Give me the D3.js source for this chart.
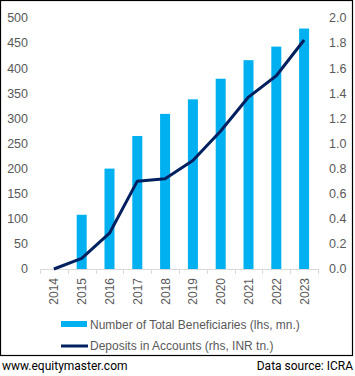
<!DOCTYPE html>
<html><head><meta charset="utf-8">
<script src="https://cdn.jsdelivr.net/npm/d3@7"></script>
<style>
html,body{margin:0;padding:0;background:#fff;}
svg{display:block;font-family:"Liberation Sans",Arial,sans-serif;}
</style></head>
<body>
<svg id="chart" width="355" height="376"></svg>
<script>
const years = ["2014","2015","2016","2017","2018","2019","2020","2021","2022","2023"];
const beneficiaries = [0,108,200,265,309,338,379,416,443,479];
const deposits = [0,0.085,0.285,0.70,0.72,0.865,1.10,1.37,1.54,1.825];
const leftTicks = [0,50,100,150,200,250,300,350,400,450,500];
const rightTicks = [0,0.2,0.4,0.6,0.8,1.0,1.2,1.4,1.6,1.8,2.0];
const legendLabels = ["Number of Total Beneficiaries (lhs, mn.)","Deposits in Accounts (rhs, INR tn.)"];

const svg = d3.select("#chart");
const x0 = 40, x1 = 318, yTop = 18, yBot = 269;
const x = d3.scaleBand().domain(years).range([x0,x1]).paddingInner(0).paddingOuter(0);
const yL = d3.scaleLinear().domain([0,500]).range([yBot,yTop]);
const yR = d3.scaleLinear().domain([0,2]).range([yBot,yTop]);
const txt = "#595959";

// border
svg.append("rect").attr("x",0.5).attr("y",0.5).attr("width",352).attr("height",355)
  .attr("fill","none").attr("stroke","#000").attr("stroke-width",1.2);

// bars
const bw = 10;
svg.append("g").selectAll("rect").data(years.map((y,i)=>({y,v:beneficiaries[i]})).filter(d=>d.v>0))
  .join("rect")
  .attr("x",d=>x(d.y)+x.bandwidth()/2-bw/2)
  .attr("width",bw)
  .attr("y",d=>yL(d.v))
  .attr("height",d=>yBot-yL(d.v))
  .attr("fill","#00B0F0");

// x axis line & ticks
const ax = svg.append("g").attr("stroke","#d9d9d9").attr("stroke-width",1);
ax.append("line").attr("x1",x0).attr("x2",x1).attr("y1",yBot+0.5).attr("y2",yBot+0.5);
const bounds = years.map(y=>x(y)).concat([x1]);
ax.selectAll("line.t").data(bounds).join("line").attr("class","t")
  .attr("x1",d=>Math.round(d)+0.5).attr("x2",d=>Math.round(d)+0.5)
  .attr("y1",yBot).attr("y2",yBot+5);

// x labels
svg.append("g").selectAll("text").data(years).join("text")
  .attr("transform",d=>`translate(${x(d)+x.bandwidth()/2+4.5},${yBot+9}) rotate(-90)`)
  .attr("text-anchor","end").attr("font-size",12).attr("fill",txt).text(d=>d);

// left axis labels
svg.append("g").selectAll("text").data(leftTicks).join("text")
  .attr("x",28).attr("y",d=>yL(d)+4.3).attr("text-anchor","end")
  .attr("font-size",12.5).attr("fill",txt).text(d=>d);

// right axis labels
svg.append("g").selectAll("text").data(rightTicks).join("text")
  .attr("x",329).attr("y",d=>yR(d)+4.3).attr("text-anchor","start")
  .attr("font-size",12.5).attr("fill",txt).text(d=>d.toFixed(1));

// line
const line = d3.line().x((d,i)=>x(years[i])+x.bandwidth()/2).y(d=>yR(d));
svg.append("path").datum(deposits).attr("d",line).attr("fill","none")
  .attr("stroke","#002060").attr("stroke-width",3).attr("stroke-linejoin","round");

// legend
svg.append("rect").attr("x",61).attr("y",321).attr("width",26).attr("height",6).attr("fill","#00B0F0");
svg.append("line").attr("x1",61).attr("x2",88).attr("y1",346).attr("y2",346)
  .attr("stroke","#002060").attr("stroke-width",3);
svg.append("text").attr("x",90).attr("y",328.5).attr("font-size",12).attr("fill",txt).text(legendLabels[0]);
svg.append("text").attr("x",90).attr("y",349.5).attr("font-size",12).attr("fill",txt).text(legendLabels[1]);

// footer
svg.append("text").attr("x",2).attr("y",370).attr("font-family","Roboto").attr("font-size",12)
  .attr("fill","#000").text("www.equitymaster.com");
svg.append("text").attr("x",353).attr("y",370).attr("text-anchor","end").attr("font-family","Roboto")
  .attr("font-size",12).attr("fill","#000").text("Data source: ICRA");
</script>
</body></html>
